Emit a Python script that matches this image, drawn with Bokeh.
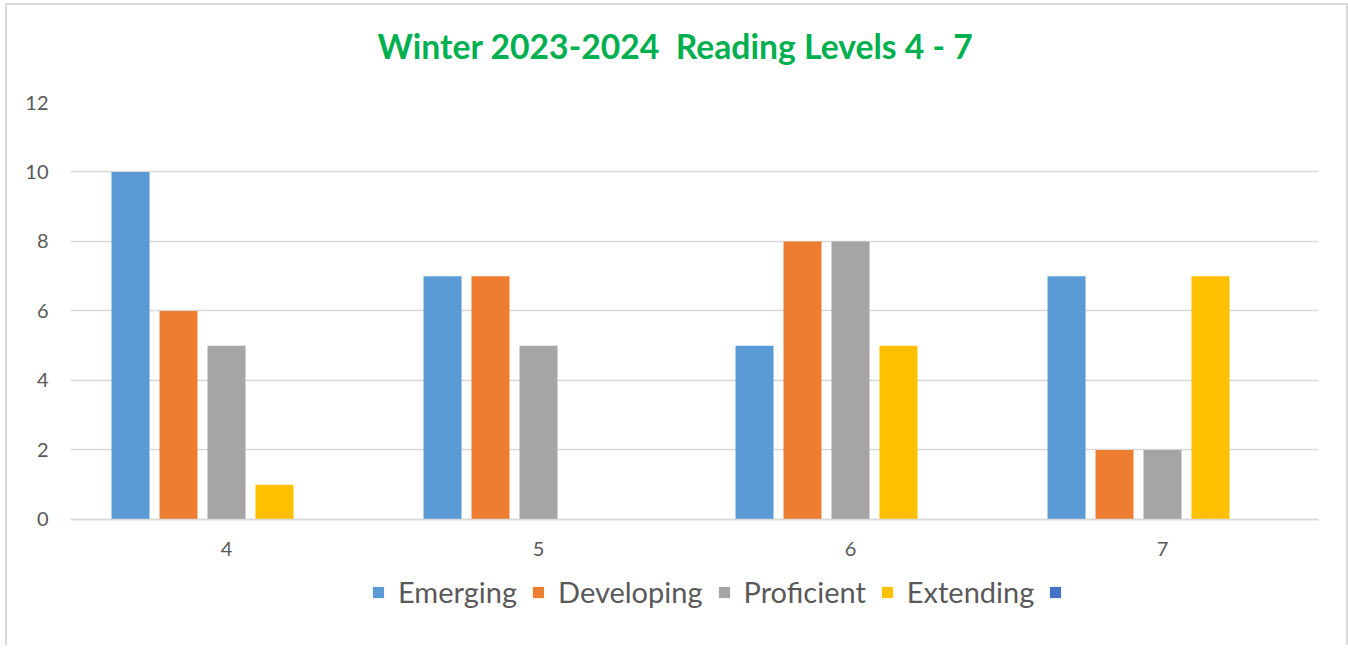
from bokeh.plotting import figure
from bokeh.models import ColumnDataSource, Range1d, Legend, LegendItem, FixedTicker, Title
from bokeh.transform import dodge
from bokeh.embed import file_html
from bokeh.resources import INLINE

# ---- data ----
levels = ["4", "5", "6", "7"]
emerging = [10, 7, 5, 7]
developing = [6, 7, 8, 2]
proficient = [5, 5, 8, 2]
extending = [1, 0, 5, 7]
series5 = [0, 0, 0, 0]
series_names = ["Emerging", "Developing", "Proficient", "Extending", " "]
series_keys = ["emerging", "developing", "proficient", "extending", "series5"]
colors = ["#5B9BD5", "#ED7D31", "#A5A5A5", "#FFC000", "#4472C4"]
y_ticks = [0, 2, 4, 6, 8, 10, 12]
title_text = "Winter 2023-2024\u00a0\u00a0Reading Levels 4 - 7"

FONT = "Lato"
TXT = "#595959"

source = ColumnDataSource(dict(level=levels, emerging=emerging, developing=developing,
                               proficient=proficient, extending=extending, series5=series5))

# frame extends below zero to hold the category labels and legend
p = figure(x_range=levels, y_range=Range1d(-3.511, 12), frame_width=1248, frame_height=539,
           output_backend="svg", toolbar_location=None, title=None,
           min_border_left=63, min_border_right=28, min_border_top=96, min_border_bottom=4)

# spacer between frame and title (first added sits closest to the frame)
p.add_layout(Title(text=" ", text_font_size="1px", standoff=15), "above")
p.add_layout(Title(text=title_text, text_color="#00B050", text_font=FONT,
                   text_font_style="bold", text_font_size="33.7px", align="left",
                   offset=307, standoff=37), "above")

pitch = 0.1538
bw = 0.1218
items = []
for i, (key, name, col) in enumerate(zip(series_keys, series_names, colors)):
    r = p.vbar(x=dodge("level", (i - 2) * pitch, range=p.x_range), top=key, width=bw,
               source=source, fill_color=col, line_color=None)
    items.append(LegendItem(label=name, renderers=[r]))

legend = Legend(items=items, orientation="horizontal", location=(301, 32))
legend.label_text_font = FONT
legend.label_text_font_size = "29px"
legend.label_text_color = TXT
legend.glyph_width = 14
legend.glyph_height = 14
legend.label_standoff = 13
legend.spacing = 14
legend.border_line_color = None
legend.background_fill_alpha = 0
legend.padding = 0
legend.margin = 0
p.add_layout(legend, "center")

p.xgrid.grid_line_color = None
p.ygrid.grid_line_color = "#D9D9D9"
p.ygrid.grid_line_width = 1.5
p.ygrid.ticker = FixedTicker(ticks=y_ticks)
p.yaxis.ticker = FixedTicker(ticks=y_ticks)
p.yaxis.axis_line_color = None
p.yaxis.major_tick_line_color = None
p.yaxis.major_tick_out = 0
p.yaxis.minor_tick_line_color = None
p.yaxis.major_label_standoff = 22
p.yaxis.major_label_text_font = FONT
p.yaxis.major_label_text_font_size = "20px"
p.yaxis.major_label_text_color = TXT

p.xaxis.fixed_location = 0
p.xaxis.axis_line_color = "#D9D9D9"
p.xaxis.axis_line_width = 1.5
p.xaxis.major_tick_line_color = None
p.xaxis.major_tick_out = 0
p.xaxis.minor_tick_line_color = None
p.xaxis.major_label_standoff = 23
p.xaxis.major_label_text_font = FONT
p.xaxis.major_label_text_font_size = "20px"
p.xaxis.major_label_text_color = TXT

p.outline_line_color = None
p.styles = {"border": "2px solid #D9D9D9", "border-bottom": "none",
            "margin-left": "5px", "margin-top": "3px"}

open("out.html", "w").write(file_html(p, INLINE))
